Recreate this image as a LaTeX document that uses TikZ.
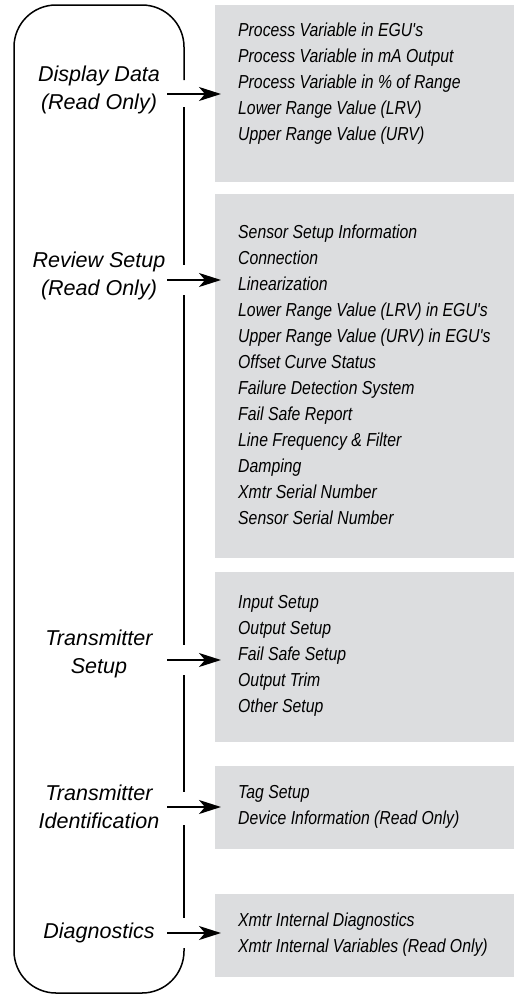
\documentclass[tikz,border=0pt]{standalone}
\usepackage{fontspec}
\setmainfont{Liberation Sans}
\newfontfamily\listfont{Liberation Sans}[FakeStretch=0.84]
\usetikzlibrary{arrows.meta}
\definecolor{panelgray}{RGB}{220,221,223}

\begin{document}
\begin{tikzpicture}[x=1pt,y=-1pt,
    menu/.style={font=\fontsize{21.5}{28}\selectfont\itshape, align=center},
    panel/.style={fill=panelgray, anchor=north west, minimum width=299pt, inner sep=0pt},
    items/.style={font=\listfont\fontsize{18.8}{26}\selectfont\itshape, align=left, anchor=west, inner sep=0pt},
    arr/.style={-{Stealth[length=22pt,width=14pt,inset=6pt]}, line width=1.7pt, shorten >=-6pt}]
      \useasboundingbox (0,0) rectangle (514,994);

      % Draw the grey panels
      \node[panel, minimum height=177pt] (p1) at (215,5) {};
      \node[panel, minimum height=364pt] (p2) at (215,194) {};
      \node[panel, minimum height=170pt] (p3) at (215,572) {};
      \node[panel, minimum height=83pt] (p4) at (215,766) {};
      \node[panel, minimum height=83pt] (p5) at (215,894) {};

      % Draw the menu outline, broken where the arrows pass
      \draw[line width=1.5pt, rounded corners=42pt] (184,80) -- (184,5) -- (14,5) -- (14,993) -- (184,993) -- (184,948);
      \foreach \a/\b in {107/265, 295/645, 675/792, 825/918}
        \draw[line width=1.5pt] (184,\a) -- (184,\b);

      % Menu entries
      \node[menu] (m1) at (99,90) {Display Data\\(Read Only)};
      \node[menu] (m2) at (99,276) {Review Setup\\(Read Only)};
      \node[menu] (m3) at (99,654) {Transmitter\\Setup};
      \node[menu] (m4) at (99,807) {Transmitter\\Identification};
      \node[menu] (m5) at (99,933) {Diagnostics};

      % Panel contents
      \node[items] (l1) at (238,84) {Process Variable in EGU's\\Process Variable in mA Output\\Process Variable in \% of Range\\Lower Range Value (LRV)\\Upper Range Value (URV)};
      \node[items] (l2) at (238,375) {Sensor Setup Information\\Connection\\Linearization\\Lower Range Value (LRV) in EGU's\\Upper Range Value (URV) in EGU's\\Offset Curve Status\\Failure Detection System\\Fail Safe Report\\Line Frequency \& Filter\\Damping\\Xmtr Serial Number\\Sensor Serial Number};
      \node[items] (l3) at (238,656) {Input Setup\\Output Setup\\Fail Safe Setup\\Output Trim\\Other Setup};
      \node[items] (l4) at (238,806.5) {Tag Setup\\Device Information (Read Only)};
      \node[items] (l5) at (238,935) {Xmtr Internal Diagnostics\\Xmtr Internal Variables (Read Only)};

      % Arrows from the menu to the panels
      \coordinate (s1) at (167,94);
      \coordinate (s2) at (167,280);
      \coordinate (s3) at (167,660);
      \coordinate (s4) at (167,807);
      \coordinate (s5) at (167,933);
      \foreach \i in {1,...,5}
        \draw[arr] (s\i) -- (s\i -| p\i.west);
\end{tikzpicture}
\end{document}
